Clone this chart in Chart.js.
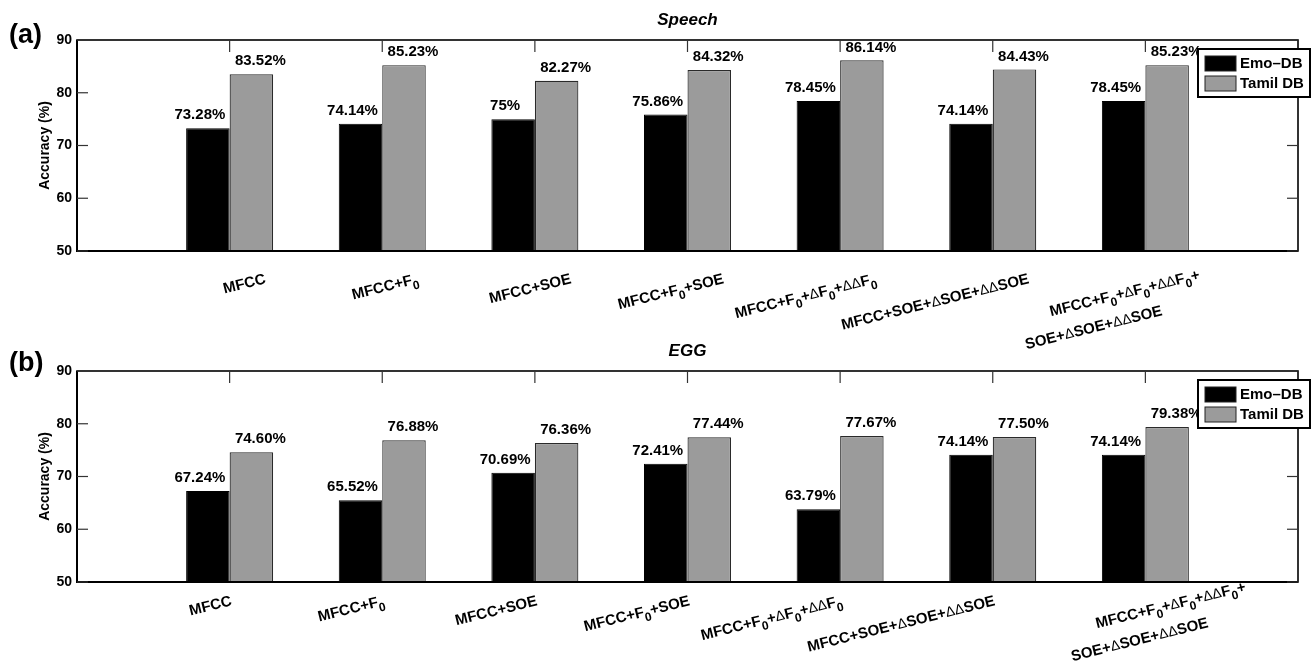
<!DOCTYPE html>
<html>
<head>
<meta charset="utf-8">
<script src="https://cdn.jsdelivr.net/npm/chart.js@4.4.1/dist/chart.umd.min.js"></script>
<style>
  body { margin: 0; background: #fff; }
  #wrap { position: relative; width: 1314px; height: 662px; }
  canvas { position: absolute; left: 0; }
  #speech { top: 0; }
  #egg { top: 331px; }
</style>
</head>
<body>
<div id="wrap">
  <canvas id="speech" width="1314" height="370"></canvas>
  <canvas id="egg" width="1314" height="331"></canvas>
</div>
<script>
// feature sets ("_0" = subscript 0)
const features = [
  "MFCC",
  "MFCC+F_0",
  "MFCC+SOE",
  "MFCC+F_0+SOE",
  "MFCC+F_0+ΔF_0+ΔΔF_0",
  "MFCC+SOE+ΔSOE+ΔΔSOE",
  ["MFCC+F_0+ΔF_0+ΔΔF_0+", "SOE+ΔSOE+ΔΔSOE"]
];
const seriesNames = ["Emo–DB", "Tamil DB"];

const speechEmo = [73.28, 74.14, 75, 75.86, 78.45, 74.14, 78.45];
const speechTamil = [83.52, 85.23, 82.27, 84.32, 86.14, 84.43, 85.23];
const eggEmo = [67.24, 65.52, 70.69, 72.41, 63.79, 74.14, 74.14];
const eggTamil = [74.60, 76.88, 76.36, 77.44, 77.67, 77.50, 79.38];

const yTicks = [50, 60, 70, 80, 90];

const FONT = "'Liberation Sans', Arial, sans-serif";

function richParts(str) {
  const parts = [];
  let i = 0;
  while (i < str.length) {
    const ch = str[i];
    if (ch === "_") {
      parts.push({ t: str[i + 1], font: "bold 12px " + FONT, dy: 6 });
      i += 2;
      continue;
    }
    if (ch === "Δ") {
      parts.push({ t: "Δ", font: "14px " + FONT, dy: 0 });
      i++;
      continue;
    }
    let j = i;
    while (j < str.length && str[j] !== "_" && str[j] !== "Δ") j++;
    parts.push({ t: str.slice(i, j), font: "bold 15px " + FONT, dy: 0 });
    i = j;
  }
  return parts;
}

// draws text right-aligned at x
function drawRich(ctx, str, x, y) {
  const parts = richParts(str);
  let w = 0;
  parts.forEach(p => { ctx.font = p.font; p.w = ctx.measureText(p.t).width; w += p.w; });
  let cx = x - w;
  parts.forEach(p => { ctx.font = p.font; ctx.fillText(p.t, cx, y + p.dy); cx += p.w; });
}

function line(ctx, x1, y1, x2, y2) {
  ctx.beginPath();
  ctx.moveTo(x1, y1);
  ctx.lineTo(x2, y2);
  ctx.stroke();
}

const figPlugin = {
  id: "fig",
  afterDatasetsDraw(chart, args, opts) {
    const ctx = chart.ctx;
    const { left, right, top, bottom } = chart.chartArea;
    const xs = chart.scales.x, ys = chart.scales.y;
    ctx.save();
    // frame
    ctx.strokeStyle = "#000";
    ctx.lineWidth = 1.6;
    ctx.strokeRect(left, top, right - left, bottom - top);
    ctx.lineWidth = 2;
    line(ctx, left, top, left, bottom + 1);
    line(ctx, left, bottom, right, bottom);
    // inward ticks
    ctx.strokeStyle = "#333";
    ctx.lineWidth = 1.2;
    ys.ticks.forEach(t => {
      const y = ys.getPixelForValue(t.value);
      line(ctx, left, y, left + 11, y);
      line(ctx, right - 11, y, right, y);
    });
    chart.data.labels.forEach((lab, i) => {
      if (!lab) return;
      const x = xs.getPixelForValue(i);
      line(ctx, x, top, x, top + 12);
    });
    // value labels
    ctx.fillStyle = "#000";
    ctx.font = "bold 15px " + FONT;
    ctx.textAlign = "center";
    ctx.textBaseline = "middle";
    chart.data.datasets.forEach((ds, di) => {
      const meta = chart.getDatasetMeta(di);
      meta.data.forEach((bar, i) => {
        const v = ds.data[i];
        if (v == null) return;
        const txt = (Number.isInteger(v) ? String(v) : v.toFixed(2)) + "%";
        ctx.fillText(txt, bar.x + (di === 0 ? -8 : 9), bar.y - 13);
      });
    });
    ctx.restore();
  },
  afterDraw(chart, args, opts) {
    const ctx = chart.ctx;
    const { left, right, top, bottom } = chart.chartArea;
    const xs = chart.scales.x;
    ctx.save();
    ctx.fillStyle = "#000";
    ctx.textBaseline = "middle";
    // title
    ctx.font = "italic bold 17px " + FONT;
    ctx.textAlign = "center";
    ctx.fillText(opts.title, (left + right) / 2, 20);
    // panel tag
    ctx.font = "bold 27px " + FONT;
    ctx.textAlign = "left";
    ctx.fillText(opts.tag, 9, opts.tagY);
    // category labels, rotated
    chart.data.labels.forEach((lab, i) => {
      if (!lab) return;
      const multi = Array.isArray(lab);
      const lines = multi ? lab : [lab];
      ctx.save();
      ctx.translate(
        xs.getPixelForValue(i) + opts.labelDx + (multi ? opts.multiDx : 0),
        bottom + opts.labelDy + (multi ? opts.multiDy : 0)
      );
      ctx.rotate(-14 * Math.PI / 180);
      ctx.textAlign = "left";
      lines.forEach((ln, k) => drawRich(ctx, ln, -45 * k, 26 * k));
      ctx.restore();
    });
    // legend
    const lx = right - 100, ly = top + 9, lw = 112, lh = 48;
    ctx.fillStyle = "#fff";
    ctx.fillRect(lx, ly, lw, lh);
    ctx.strokeStyle = "#000";
    ctx.lineWidth = 2;
    ctx.strokeRect(lx, ly, lw, lh);
    ctx.font = "bold 15px " + FONT;
    ctx.textAlign = "left";
    chart.data.datasets.forEach((ds, di) => {
      const sy = ly + 7 + di * 20;
      ctx.fillStyle = ds.backgroundColor;
      ctx.fillRect(lx + 7, sy, 31, 15);
      ctx.strokeStyle = "#222";
      ctx.lineWidth = 1;
      ctx.strokeRect(lx + 7, sy, 31, 15);
      ctx.fillStyle = "#000";
      ctx.fillText(ds.label, lx + 42, sy + 8);
    });
    ctx.restore();
  }
};

function makeChart(id, title, tag, tagY, emo, tamil, lbl, padBottom) {
  const labels = [""].concat(features, [""]);
  new Chart(document.getElementById(id), {
    type: "bar",
    data: {
      labels: labels,
      datasets: [
        {
          label: seriesNames[0],
          data: [null].concat(emo, [null]),
          backgroundColor: "#000000",
          borderColor: "#000000",
          borderWidth: 1,
          categoryPercentage: 0.57,
          barPercentage: 1.0,
        },
        {
          label: seriesNames[1],
          data: [null].concat(tamil, [null]),
          backgroundColor: "#9b9b9b",
          borderColor: "#2a2a2a",
          borderWidth: 1.2,
          categoryPercentage: 0.57,
          barPercentage: 1.0,
        },
      ],
    },
    options: {
      responsive: false,
      animation: false,
      devicePixelRatio: 1,
      layout: { padding: { left: 0, right: 16, top: 40, bottom: padBottom } },
      plugins: {
        legend: { display: false },
        tooltip: { enabled: false },
        fig: Object.assign({ title: title, tag: tag, tagY: tagY }, lbl),
      },
      scales: {
        x: { display: false, offset: false },
        y: {
          min: yTicks[0],
          max: yTicks[yTicks.length - 1],
          grid: { display: false, drawTicks: false },
          border: { display: false },
          ticks: {
            stepSize: yTicks[1] - yTicks[0],
            padding: 5,
            color: "#000",
            font: { family: FONT, size: 14, weight: "bold" },
          },
          title: {
            display: true,
            text: "Accuracy (%)",
            color: "#000",
            font: { family: FONT, size: 14, weight: "bold" },
            padding: { top: 37, bottom: 0 },
          },
          afterFit: function (scale) { scale.width = 77; },
        },
      },
    },
    plugins: [figPlugin],
  });
}

makeChart("speech", "Speech", "(a)", 36, speechEmo, speechTamil,
  { labelDx: 36, labelDy: 28, multiDx: 18, multiDy: -4 }, 119);
makeChart("egg", "EGG", "(b)", 33, eggEmo, eggTamil,
  { labelDx: 2, labelDy: 19, multiDx: 98, multiDy: -14 }, 80);
</script>
</body>
</html>
